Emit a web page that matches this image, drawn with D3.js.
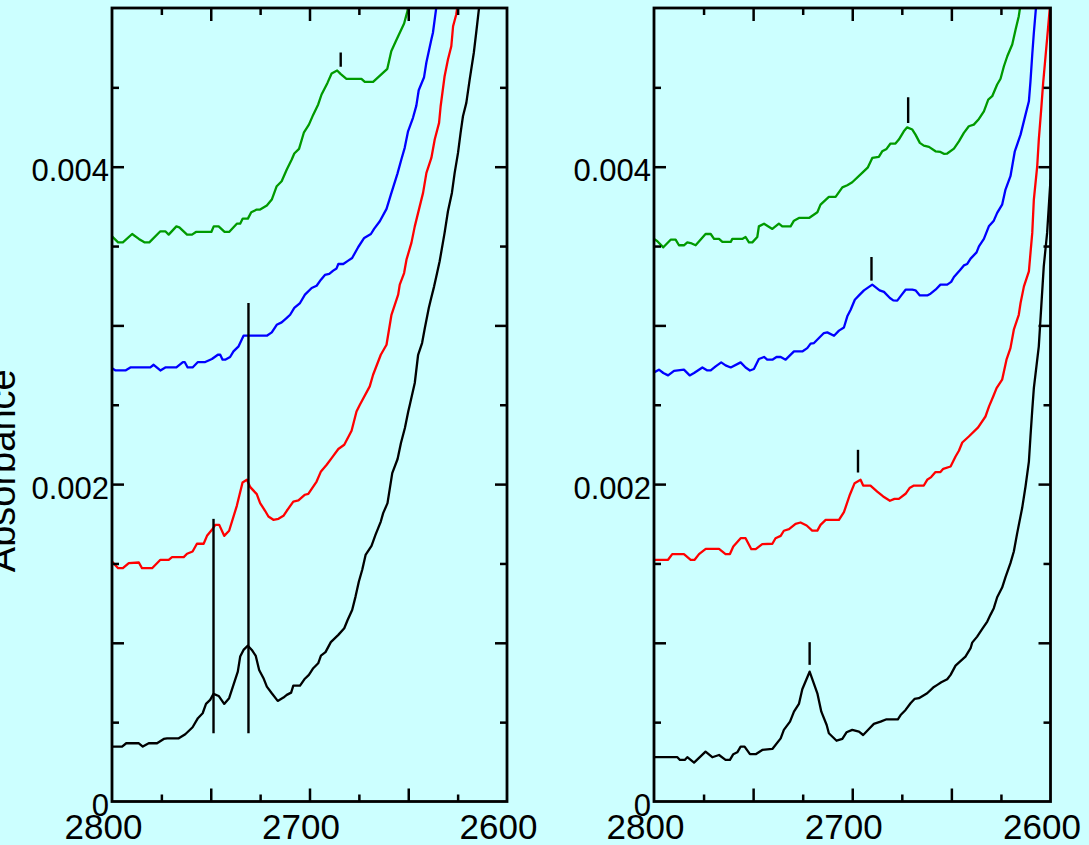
<!DOCTYPE html>
<html><head><meta charset="utf-8">
<script src="https://cdn.jsdelivr.net/npm/d3@7/dist/d3.min.js"></script>
<style>html,body{margin:0;padding:0;background:#ccffff;overflow:hidden;} svg{display:block;}</style>
</head><body>
<script>
// ---------------- DATA ----------------
// tick labels
const xTickLabels = [2800, 2700, 2600];
const yTickLabels = [0, 0.002, 0.004];
const xMajorTicks = [2750, 2700, 2650];
const xMinorTicks = [2775, 2725, 2675, 2625];
const yMajorTicks = [0.001, 0.002, 0.003, 0.004];
const yMinorTicks = [0.0005, 0.0015, 0.0025, 0.0035, 0.0045];
const yTitle = "Absorbance";

// series: [wavenumber (cm-1), absorbance]
const leftGreen = [[2800,0.003561],[2796.9,0.003523],[2794.5,0.003523],[2789.8,0.003576],[2786.4,0.003545],[2783.4,0.003523],[2781.1,0.003523],[2775.5,0.003593],[2773.0,0.003593],[2771.3,0.003572],[2767.4,0.003624],[2765.9,0.003618],[2762.0,0.003572],[2759.5,0.003572],[2757.5,0.003589],[2749.7,0.003589],[2748.5,0.003624],[2746.0,0.003624],[2743.0,0.003589],[2740.7,0.003589],[2736.8,0.003641],[2735.1,0.003641],[2733.8,0.003673],[2731.2,0.003673],[2729.5,0.003713],[2726.7,0.003730],[2725.0,0.003730],[2721.6,0.003755],[2719.1,0.003793],[2716.6,0.003877],[2714.1,0.003908],[2711.5,0.003982],[2709.0,0.004045],[2707.7,0.004083],[2705.3,0.004112],[2702.8,0.004217],[2700.3,0.004265],[2698.1,0.004328],[2695.6,0.004392],[2693.9,0.004455],[2690.9,0.004528],[2688.8,0.004587],[2686.0,0.004606],[2684.3,0.004585],[2681.3,0.004554],[2673.7,0.004554],[2672.0,0.004535],[2667.8,0.004535],[2660.6,0.004617],[2658.6,0.004728],[2656.3,0.004791],[2652.1,0.004902],[2650.4,0.004980],[2649.8,0.005050]];
const leftBlue = [[2800,0.002731],[2798.2,0.002716],[2793.2,0.002716],[2790.7,0.002735],[2780.6,0.002735],[2778.9,0.002752],[2775.5,0.002716],[2773.0,0.002735],[2767.4,0.002735],[2764.1,0.002769],[2763.2,0.002769],[2761.7,0.002735],[2759.2,0.002735],[2756.5,0.002769],[2752.8,0.002769],[2749.4,0.002788],[2746.4,0.002815],[2745.2,0.002815],[2744.0,0.002784],[2742.7,0.002784],[2740.2,0.002801],[2738.5,0.002836],[2735.9,0.002868],[2733.4,0.002935],[2721.6,0.002935],[2719.1,0.002956],[2716.6,0.003004],[2714.1,0.003019],[2711.5,0.003047],[2709.8,0.003067],[2707.7,0.003110],[2704.8,0.003141],[2702.3,0.003194],[2698.9,0.003236],[2696.4,0.003250],[2694.2,0.003288],[2692.2,0.003318],[2690.0,0.003324],[2688.0,0.003345],[2686.3,0.003359],[2685.4,0.003387],[2682.9,0.003387],[2680.4,0.003408],[2678.4,0.003425],[2675.3,0.003494],[2672.3,0.003551],[2668.9,0.003576],[2667.3,0.003608],[2664.4,0.003656],[2661.0,0.003734],[2658.8,0.003824],[2655.5,0.003955],[2653.5,0.004045],[2651.8,0.004119],[2650.1,0.004223],[2647.6,0.004308],[2645.9,0.004385],[2644.7,0.004482],[2642.0,0.004564],[2640.8,0.004658],[2638.3,0.004801],[2637.5,0.004844],[2635.3,0.005050]];
const leftRed = [[2800,0.001512],[2796.9,0.001470],[2794.5,0.001470],[2791.5,0.001502],[2786.4,0.001506],[2784.8,0.001470],[2779.7,0.001470],[2775.5,0.001523],[2771.3,0.001523],[2769.6,0.001540],[2763.7,0.001540],[2762.0,0.001561],[2759.2,0.001575],[2757.0,0.001624],[2753.6,0.001624],[2751.9,0.001674],[2749.4,0.001712],[2747.7,0.001743],[2745.7,0.001743],[2743.2,0.001674],[2740.7,0.001706],[2736.8,0.001863],[2733.9,0.002010],[2731.7,0.002027],[2730.0,0.001981],[2726.7,0.001937],[2725.0,0.001880],[2722.5,0.001832],[2720.8,0.001796],[2718.3,0.001775],[2715.7,0.001781],[2713.2,0.001800],[2711.5,0.001832],[2708.2,0.001890],[2705.6,0.001897],[2702.3,0.001933],[2700.6,0.001939],[2696.4,0.002016],[2694.2,0.002080],[2691.3,0.002122],[2688.8,0.002164],[2685.4,0.002221],[2682.4,0.002248],[2678.7,0.002336],[2676.2,0.002458],[2674.5,0.002500],[2669.5,0.002616],[2667.8,0.002689],[2663.9,0.002815],[2661.0,0.002878],[2658.5,0.003067],[2655.1,0.003194],[2654.3,0.003257],[2652.1,0.003330],[2650.9,0.003414],[2648.4,0.003520],[2646.7,0.003624],[2644.2,0.003750],[2642.5,0.003835],[2640.8,0.003961],[2638.3,0.004055],[2636.6,0.004171],[2634.4,0.004276],[2633.6,0.004381],[2631.6,0.004570],[2629.9,0.004675],[2628.2,0.004759],[2627.3,0.004885],[2625.7,0.004959],[2624.6,0.005050]];
const leftBlack = [[2800,0.000346],[2794.9,0.000346],[2792.8,0.000367],[2786.4,0.000367],[2784.4,0.000346],[2781.4,0.000367],[2777.2,0.000367],[2773.8,0.000394],[2772.1,0.000398],[2766.2,0.000398],[2762.9,0.000424],[2759.2,0.000468],[2756.5,0.000525],[2754.1,0.000556],[2752.4,0.000615],[2750.3,0.000640],[2748.6,0.000678],[2746.0,0.000665],[2743.2,0.000615],[2740.7,0.000651],[2738.5,0.000735],[2736.3,0.000818],[2735.1,0.000913],[2733.4,0.000955],[2731.2,0.000982],[2729.2,0.000955],[2727.2,0.000917],[2725.5,0.000829],[2723.3,0.000777],[2721.6,0.000724],[2719.1,0.000682],[2716.1,0.000634],[2713.2,0.000655],[2711.5,0.000672],[2709.3,0.000686],[2708.2,0.000730],[2704.8,0.000730],[2702.6,0.000770],[2700.3,0.000798],[2698.1,0.000840],[2695.6,0.000871],[2694.2,0.000919],[2691.9,0.000941],[2689.2,0.001004],[2685.4,0.001050],[2682.4,0.001092],[2680.7,0.001144],[2678.4,0.001207],[2676.7,0.001291],[2675.0,0.001386],[2673.3,0.001460],[2671.6,0.001554],[2668.6,0.001611],[2666.6,0.001680],[2663.9,0.001764],[2662.7,0.001817],[2660.5,0.001880],[2658.1,0.002069],[2655.4,0.002158],[2653.7,0.002259],[2651.7,0.002353],[2650.0,0.002458],[2649.2,0.002500],[2646.7,0.002637],[2645.0,0.002815],[2643.0,0.002889],[2641.6,0.002984],[2639.6,0.003110],[2638.6,0.003162],[2636.9,0.003246],[2635.4,0.003330],[2634.1,0.003404],[2631.6,0.003583],[2629.9,0.003719],[2627.9,0.003835],[2626.5,0.003961],[2624.8,0.004087],[2623.5,0.004213],[2622.3,0.004318],[2620.6,0.004402],[2618.9,0.004549],[2616.8,0.004718],[2615.6,0.004844],[2613.7,0.005050]];

const rightGreen = [[2800,0.003545],[2798.3,0.003530],[2795.3,0.003492],[2791.6,0.003540],[2789.1,0.003540],[2787.4,0.003505],[2784.9,0.003505],[2783.2,0.003523],[2781.5,0.003519],[2779.0,0.003505],[2774.0,0.003576],[2771.4,0.003576],[2769.7,0.003545],[2767.2,0.003545],[2765.5,0.003526],[2761.3,0.003526],[2760.5,0.003545],[2755.5,0.003545],[2753.8,0.003557],[2752.1,0.003523],[2750.4,0.003523],[2747.9,0.003557],[2747.1,0.003624],[2744.5,0.003641],[2740.3,0.003608],[2737.0,0.003641],[2735.3,0.003624],[2731.1,0.003624],[2729.4,0.003660],[2726.9,0.003677],[2721.8,0.003677],[2717.6,0.003713],[2716.0,0.003761],[2711.8,0.003810],[2708.4,0.003810],[2705.0,0.003870],[2702.5,0.003883],[2700.0,0.003902],[2695.0,0.003961],[2692.1,0.003996],[2689.9,0.004055],[2686.6,0.004062],[2684.9,0.004097],[2682.7,0.004112],[2680.7,0.004146],[2678.2,0.004146],[2676.5,0.004171],[2674.0,0.004223],[2672.3,0.004248],[2669.7,0.004234],[2668.1,0.004202],[2665.9,0.004150],[2663.9,0.004133],[2661.3,0.004125],[2658.0,0.004097],[2655.5,0.004093],[2653.8,0.004081],[2652.1,0.004083],[2648.7,0.004114],[2646.2,0.004160],[2643.7,0.004213],[2641.2,0.004255],[2638.7,0.004265],[2636.1,0.004301],[2633.6,0.004349],[2631.4,0.004423],[2629.4,0.004444],[2626.9,0.004518],[2625.2,0.004554],[2623.5,0.004633],[2621.8,0.004696],[2619.3,0.004770],[2617.6,0.004864],[2616.0,0.004948],[2614.8,0.005050]];
const rightBlue = [[2800,0.002704],[2797.5,0.002721],[2795.3,0.002700],[2792.9,0.002685],[2789.9,0.002714],[2784.9,0.002721],[2782.0,0.002685],[2779.8,0.002700],[2775.6,0.002735],[2773.1,0.002716],[2771.4,0.002716],[2768.9,0.002742],[2766.1,0.002767],[2763.9,0.002748],[2761.3,0.002735],[2756.3,0.002767],[2753.8,0.002735],[2751.6,0.002716],[2749.6,0.002725],[2747.1,0.002788],[2744.5,0.002801],[2742.9,0.002784],[2740.3,0.002784],[2738.2,0.002801],[2736.1,0.002801],[2733.6,0.002784],[2729.4,0.002836],[2725.2,0.002836],[2722.7,0.002857],[2721.0,0.002885],[2719.3,0.002889],[2716.8,0.002921],[2714.3,0.002952],[2712.6,0.002956],[2709.2,0.002935],[2706.7,0.002967],[2704.2,0.002987],[2702.5,0.003057],[2700.8,0.003099],[2698.7,0.003162],[2696.6,0.003189],[2694.1,0.003221],[2689.9,0.003257],[2686.2,0.003221],[2684.0,0.003211],[2681.0,0.003173],[2679.3,0.003158],[2677.3,0.003156],[2675.3,0.003189],[2673.1,0.003225],[2669.7,0.003225],[2668.1,0.003221],[2665.9,0.003189],[2662.2,0.003189],[2660.5,0.003200],[2658.0,0.003225],[2655.5,0.003257],[2652.1,0.003257],[2650.1,0.003274],[2648.7,0.003305],[2645.7,0.003347],[2643.7,0.003378],[2642.0,0.003387],[2640.3,0.003421],[2637.3,0.003460],[2636.1,0.003498],[2633.6,0.003545],[2631.1,0.003624],[2628.6,0.003660],[2626.9,0.003709],[2624.4,0.003761],[2622.7,0.003856],[2620.2,0.003940],[2618.0,0.004097],[2615.1,0.004202],[2612.6,0.004328],[2610.9,0.004412],[2610.1,0.004538],[2609.2,0.004707],[2608.4,0.004844],[2607.0,0.005050]];
const rightRed = [[2800,0.001523],[2792.9,0.001523],[2790.8,0.001559],[2784.9,0.001559],[2781.5,0.001523],[2779.5,0.001523],[2777.3,0.001559],[2773.9,0.001592],[2767.2,0.001592],[2763.9,0.001559],[2761.7,0.001559],[2760.0,0.001607],[2756.3,0.001659],[2753.8,0.001659],[2750.9,0.001590],[2748.7,0.001590],[2745.4,0.001622],[2740.3,0.001624],[2738.7,0.001659],[2736.1,0.001674],[2734.5,0.001706],[2731.9,0.001716],[2728.6,0.001750],[2726.1,0.001758],[2723.0,0.001739],[2720.2,0.001707],[2717.6,0.001707],[2716.0,0.001743],[2713.4,0.001775],[2706.7,0.001775],[2704.2,0.001823],[2701.2,0.001933],[2698.8,0.002006],[2695.8,0.002027],[2694.5,0.001991],[2690.8,0.001991],[2687.4,0.001953],[2684.4,0.001922],[2681.0,0.001895],[2678.7,0.001907],[2676.5,0.001907],[2673.1,0.001939],[2671.1,0.001975],[2668.9,0.001991],[2663.9,0.001991],[2662.2,0.002027],[2660.2,0.002044],[2658.0,0.002076],[2655.5,0.002076],[2654.1,0.002096],[2650.4,0.002111],[2647.9,0.002174],[2646.2,0.002210],[2644.5,0.002262],[2641.2,0.002300],[2636.5,0.002357],[2632.8,0.002426],[2631.0,0.002490],[2628.9,0.002552],[2627.2,0.002605],[2624.4,0.002658],[2622.2,0.002784],[2620.2,0.002857],[2618.5,0.002973],[2616.0,0.003067],[2615.1,0.003141],[2613.4,0.003246],[2610.9,0.003341],[2610.1,0.003456],[2609.2,0.003583],[2608.4,0.003793],[2606.7,0.004003],[2605.9,0.004171],[2604.7,0.004360],[2603.7,0.004528],[2602.5,0.004696],[2601.3,0.004864],[2600.0,0.005050]];
const rightBlack = [[2800,0.000279],[2788.2,0.000279],[2786.9,0.000262],[2784.5,0.000262],[2783.2,0.000279],[2779.8,0.000245],[2774.0,0.000314],[2770.6,0.000279],[2767.2,0.000293],[2763.9,0.000262],[2761.7,0.000262],[2760.0,0.000298],[2758.0,0.000310],[2756.3,0.000346],[2754.3,0.000346],[2751.6,0.000298],[2748.7,0.000298],[2745.4,0.000325],[2740.3,0.000331],[2736.1,0.000398],[2734.5,0.000451],[2731.4,0.000503],[2729.4,0.000566],[2726.9,0.000615],[2725.2,0.000707],[2721.5,0.000818],[2717.6,0.000682],[2715.6,0.000566],[2712.9,0.000482],[2711.8,0.000430],[2707.9,0.000383],[2705.0,0.000394],[2702.9,0.000436],[2700.0,0.000451],[2696.6,0.000440],[2694.5,0.000419],[2691.6,0.000457],[2689.1,0.000489],[2685.7,0.000503],[2682.7,0.000518],[2677.0,0.000518],[2675.6,0.000545],[2673.1,0.000577],[2670.6,0.000619],[2668.6,0.000646],[2666.4,0.000651],[2662.2,0.000682],[2659.2,0.000718],[2657.1,0.000735],[2655.1,0.000751],[2652.1,0.000770],[2650.4,0.000798],[2647.9,0.000856],[2645.7,0.000881],[2642.9,0.000913],[2640.3,0.000966],[2639.5,0.001001],[2637.0,0.001039],[2634.5,0.001086],[2631.9,0.001134],[2630.3,0.001176],[2628.6,0.001218],[2626.9,0.001287],[2624.4,0.001348],[2622.7,0.001414],[2620.2,0.001502],[2618.5,0.001575],[2616.8,0.001691],[2614.3,0.001849],[2612.6,0.001985],[2610.9,0.002142],[2610.1,0.002300],[2609.2,0.002468],[2608.4,0.002605],[2605.9,0.002868],[2603.4,0.003372],[2601.7,0.003583],[2600.0,0.003919]];

// peak markers: [wavenumber, absorbance from, absorbance to]
const leftMarkers = [[2748.6,0.000430,0.001781],[2730.9,0.000430,0.003141],[2684.2,0.004630,0.004720]];
const rightMarkers = [[2671.8,0.004276,0.004438],[2690.3,0.003282,0.003431],[2697.1,0.002073,0.002216],[2721.5,0.000861,0.001004]];

const seriesColors = ["#009a00", "#0000ff", "#ff0000", "#000000"];

// ---------------- DRAWING ----------------
const W = 1089, H = 845;
const FONT = "'Liberation Sans', Arial, Helvetica, sans-serif";
const svg = d3.select("body").append("svg").attr("width", W).attr("height", H);
svg.append("rect").attr("width", W).attr("height", H).attr("fill", "#ccffff");

const yTop = 8, yBottom = 801.5;
const y = d3.scaleLinear().domain([0, 0.005]).range([yBottom, yTop]);

function drawPanel(id, xRange, series, markers) {
  const x = d3.scaleLinear().domain([2800, 2600]).range(xRange);
  const [x0, x1] = xRange;
  svg.append("clipPath").attr("id", "clip" + id)
    .append("rect").attr("x", x0).attr("y", yTop).attr("width", x1 - x0).attr("height", yBottom - yTop);
  const g = svg.append("g").attr("clip-path", "url(#clip" + id + ")");
  const line = d3.line().x(d => x(d[0])).y(d => y(d[1]));
  series.forEach((s, i) => {
    g.append("path").datum(s).attr("d", line)
      .attr("fill", "none").attr("stroke", seriesColors[i])
      .attr("stroke-width", 2.3).attr("stroke-linejoin", "round");
  });
  g.selectAll("line.marker").data(markers).enter().append("line")
    .attr("class", "marker")
    .attr("x1", d => x(d[0])).attr("x2", d => x(d[0]))
    .attr("y1", d => y(d[1])).attr("y2", d => y(d[2]))
    .attr("stroke", "#000").attr("stroke-width", 2.4);

  // tick marks (inward on all four sides)
  function ticks(axisFn, scale, values, size, tx, ty) {
    const a = axisFn(scale).tickValues(values).tickSize(-size).tickFormat("");
    const ag = svg.append("g").attr("transform", `translate(${tx},${ty})`).call(a);
    ag.select(".domain").remove();
    ag.selectAll("line").attr("stroke", "#000").attr("stroke-width", 2.5);
  }
  ticks(d3.axisBottom, x, xMajorTicks, 13, 0, yBottom);
  ticks(d3.axisBottom, x, xMinorTicks, 7, 0, yBottom);
  ticks(d3.axisTop, x, xMajorTicks, 13, 0, yTop);
  ticks(d3.axisTop, x, xMinorTicks, 7, 0, yTop);
  ticks(d3.axisLeft, y, yMajorTicks, 12, x0, 0);
  ticks(d3.axisLeft, y, yMinorTicks, 7, x0, 0);
  ticks(d3.axisRight, y, yMajorTicks, 12, x1, 0);
  ticks(d3.axisRight, y, yMinorTicks, 7, x1, 0);

  // frame
  svg.append("rect").attr("x", x0).attr("y", yTop).attr("width", x1 - x0).attr("height", yBottom - yTop)
    .attr("fill", "none").attr("stroke", "#000").attr("stroke-width", 2.8);

  // y labels
  const yl = svg.append("g").attr("transform", `translate(${x0 - 3},0)`)
    .call(d3.axisLeft(y).tickValues(yTickLabels).tickSize(0).tickPadding(0)
      .tickFormat(d => d === 0 ? "0" : d3.format(".3f")(d)));
  yl.select(".domain").remove();
  yl.selectAll("text").attr("font-family", FONT).attr("font-size", 31).attr("fill", "#000").attr("dy", "0.45em");

  // x labels
  const xl = svg.append("g").attr("transform", `translate(-9,${yBottom})`)
    .call(d3.axisBottom(x).tickValues(xTickLabels).tickSize(0).tickPadding(13)
      .tickFormat(d3.format("d")));
  xl.select(".domain").remove();
  xl.selectAll("text").attr("font-family", FONT).attr("font-size", 35).attr("fill", "#000");
}

drawPanel("L", [112, 507], [leftGreen, leftBlue, leftRed, leftBlack], leftMarkers);
drawPanel("R", [654, 1050.5], [rightGreen, rightBlue, rightRed, rightBlack], rightMarkers);

svg.append("text")
  .attr("transform", `translate(15,${(yTop + yBottom) / 2 + 66}) rotate(-90)`)
  .attr("text-anchor", "middle")
  .attr("font-family", FONT).attr("font-size", 38).attr("fill", "#000")
  .text(yTitle);
</script>
</body></html>
